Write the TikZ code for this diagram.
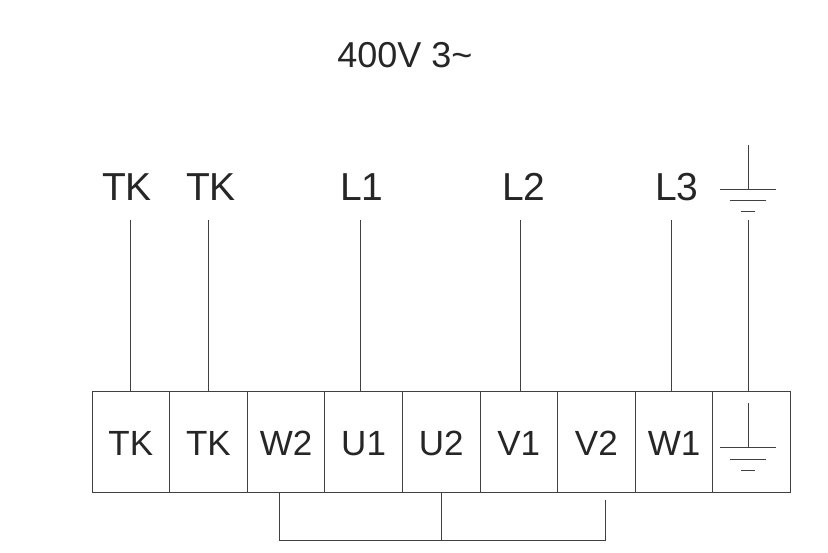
\documentclass[tikz,border=0pt]{standalone}
\usepackage{fontspec}
\setmainfont{Liberation Sans}
\usetikzlibrary{positioning}

\begin{document}
\begin{tikzpicture}[
  x=1pt, y=-1pt,
  line width=1pt, draw=black!75,
  cell/.style={
    rectangle, draw=black!75, line width=1pt,
    minimum width=77.6pt, minimum height=100pt,
    inner sep=0pt, outer sep=0pt,
    text height=26pt, text depth=0pt,
    font=\fontsize{35}{35}\selectfont,
    text=black!85, anchor=north west
  },
  tag/.style={
    font=\fontsize{39}{39}\selectfont,
    text=black!85, inner sep=0pt
  },
  wire/.style={draw=black!75, line width=1pt}
]
  \useasboundingbox (0,0) rectangle (828,553);

  % Title
  \node[tag, font=\fontsize{36}{36}\selectfont] (title) at (405,55) {400V 3\textasciitilde};

  % Terminal block
  \node[cell] (tk1) at (92,392) {TK};
  \node[cell, right=0pt of tk1] (tk2) {TK};
  \node[cell, right=0pt of tk2] (w2) {W2};
  \node[cell, right=0pt of w2] (u1) {U1};
  \node[cell, right=0pt of u1] (u2) {U2};
  \node[cell, right=0pt of u2] (v1) {V1};
  \node[cell, right=0pt of v1] (v2) {V2};
  \node[cell, right=0pt of v2] (w1) {W1};
  \node[cell, right=0pt of w1] (pe) {};

  % Supply labels
  \node[tag] (ltk1) at (127,187) {TK};
  \node[tag] (ltk2) at (211,187) {TK};
  \node[tag] (l1) at (362,187) {L1};
  \node[tag] (l2) at (524,187) {L2};
  \node[tag] (l3) at (677,187) {L3};
  \coordinate (gnd) at (748,212);

  % Supply wires
  \draw[wire] (130,220) coordinate (a1) -- (a1 |- tk1.north);
  \draw[wire] (208,220) coordinate (a2) -- (a2 |- tk2.north);
  \draw[wire] (360,220) coordinate (a3) -- (a3 |- u1.north);
  \draw[wire] (520,220) coordinate (a4) -- (a4 |- v1.north);
  \draw[wire] (671,220) coordinate (a5) -- (a5 |- w1.north);
  \draw[wire] (gnd) ++(0,8) -- (gnd |- pe.north);

  % Earth symbols
  \foreach \y/\h in {190/45,448/45}{
    \draw[wire] (748,\y-\h) -- (748,\y);
    \draw[wire] (720,\y) -- (776,\y);
    \draw[wire] (730,\y+11) -- (766,\y+11);
    \draw[wire] (741,\y+22) -- (755,\y+22);
  }

  % Bridges
  \draw[wire] (w2.south) ++(-7,0) coordinate (b1) -- ++(0,48) -| (u2.south);
  \draw[wire] (u2.south) -- ++(0,48) -| ([xshift=9pt,yshift=-8pt]v2.south);
\end{tikzpicture}
\end{document}
